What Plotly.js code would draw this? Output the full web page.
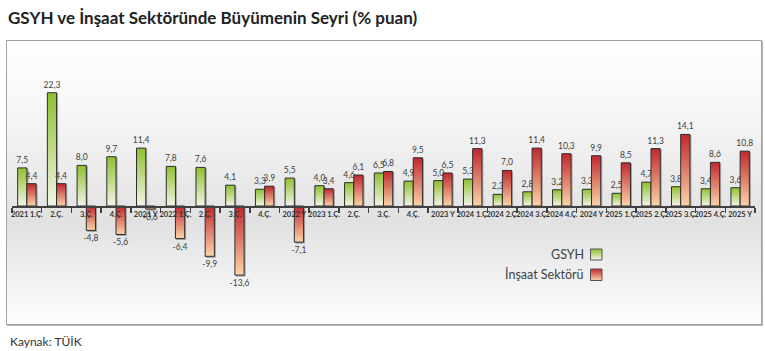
<!DOCTYPE html>
<html>
<head>
<meta charset="utf-8">
<script src="https://cdn.plot.ly/plotly-3.0.1.min.js"></script>
<style>
  html, body { margin: 0; padding: 0; background: #ffffff; }
  #wrap { position: relative; width: 765px; height: 351px; }
  #frame {
    position: absolute; left: 6px; top: 40px; width: 754px; height: 283px;
    border: 1px solid #a3a3a3; box-shadow: 1px 1px 0 #b5b5b5;
    background: linear-gradient(to bottom, #ffffff 0%, #f6f6f6 25%, #e9e9e9 50%, #e1e1e1 64%, #eeeeee 80%, #ffffff 100%);
  }
  #chart { position: absolute; left: 0; top: 0; width: 765px; height: 351px; }
</style>
</head>
<body>
<div id="wrap">
  <div id="frame"></div>
  <div id="chart"></div>
</div>
<script>
const categories = ["2021 1.Ç.", "2.Ç.", "3.Ç.", "4.Ç.", "2021 Y", "2022 1.Ç.", "2.Ç.", "3.Ç.", "4.Ç.", "2022 Y",
  "2023 1.Ç.", "2.Ç.", "3.Ç.", "4.Ç.", "2023 Y", "2024 1.Ç.", "2024 2.Ç.", "2024 3.Ç.", "2024 4.Ç.", "2024 Y",
  "2025 1.Ç.", "2025 2.Ç.", "2025 3.Ç.", "2025 4.Ç.", "2025 Y"];
const gsyh = [7.5, 22.3, 8.0, 9.7, 11.4, 7.8, 7.6, 4.1, 3.3, 5.5, 4.0, 4.6, 6.5, 4.9, 5.0, 5.3, 2.3, 2.8, 3.2, 3.3, 2.5, 4.7, 3.8, 3.4, 3.6];
const insaat = [4.4, 4.4, -4.8, -5.6, -0.6, -6.4, -9.9, -13.6, 3.9, -7.1, 3.4, 6.1, 6.8, 9.5, 6.5, 11.3, 7.0, 11.4, 10.3, 9.9, 8.5, 11.3, 14.1, 8.6, 10.8];
const seriesNames = ["GSYH", "İnşaat Sektörü"];

const FONT = "Lato, 'Open Sans', sans-serif";
const fmt = v => v.toFixed(1).replace('.', ',');
const idx = categories.map((_, i) => i);
const bounds = categories.map((_, i) => i - 0.5).concat([categories.length - 0.5]);

// plot area geometry (pixels)
const L = 12, R = 10, T = 44, B = 29, W = 765, H = 351;
const PW = W - L - R, PH = H - T - B;
const yr = [-22.83, 31.89];
const px = x => (x - L) / PW;
const py = y => (H - B - y) / PH;

const common = {
  type: 'bar', x: idx, textposition: 'outside', cliponaxis: false, constraintext: 'none',
  textfont: { family: FONT, size: 8.5, color: '#404040' }, hoverinfo: 'skip'
};
const traces = [
  Object.assign({}, common, { name: seriesNames[0], y: gsyh, text: gsyh.map(fmt),
    marker: { color: '#b5d56a', line: { color: '#2e2e2e', width: 1 } } }),
  Object.assign({}, common, { name: seriesNames[1], y: insaat, text: insaat.map(fmt),
    marker: { color: '#d9534f', line: { color: '#2e2e2e', width: 1 } } })
];

const layout = {
  width: W, height: H,
  margin: { l: L, r: R, t: T, b: B, pad: 0 },
  paper_bgcolor: 'rgba(0,0,0,0)', plot_bgcolor: 'rgba(0,0,0,0)',
  barmode: 'group', bargap: 0.38, bargroupgap: 0,
  showlegend: false,
  font: { family: FONT, color: '#333' },
  title: { text: 'GSYH ve İnşaat Sektöründe Büyümenin Seyri (% puan)', x: 8 / W, xanchor: 'left',
    y: 1 - 18 / H, yanchor: 'middle', font: { family: FONT, size: 17, weight: 'bold', color: '#222' } },
  xaxis: {
    range: [-0.5, categories.length - 0.5], tickmode: 'array', tickvals: idx, ticktext: categories,
    ticks: '', tickangle: 0, showgrid: false, zeroline: false,
    showline: true, linecolor: '#404040', linewidth: 1.5,
    anchor: 'free', position: -yr[0] / (yr[1] - yr[0]), layer: 'above traces',
    tickfont: { family: FONT, size: 7.5, weight: 'bold', color: '#333' },
    minor: { tickmode: 'array', tickvals: bounds, ticks: 'outside', ticklen: 5, tickwidth: 1.5, tickcolor: '#404040', showgrid: false }
  },
  yaxis: { range: yr, visible: false, showgrid: false, zeroline: false },
  shapes: [
    { type: 'rect', xref: 'paper', yref: 'paper', x0: px(590.5), x1: px(602), y0: py(260), y1: py(249),
      fillcolor: '#c9e292', line: { color: '#555', width: 1 } },
    { type: 'rect', xref: 'paper', yref: 'paper', x0: px(590.5), x1: px(602), y0: py(280.5), y1: py(269),
      fillcolor: '#e2857a', line: { color: '#555', width: 1 } }
  ],
  annotations: [
    { text: seriesNames[0], xref: 'paper', yref: 'paper', x: px(586), y: py(254.5), xanchor: 'right', yanchor: 'middle',
      showarrow: false, font: { family: FONT, size: 12.5, color: '#404040' } },
    { text: seriesNames[1], xref: 'paper', yref: 'paper', x: px(586), y: py(274.5), xanchor: 'right', yanchor: 'middle',
      showarrow: false, font: { family: FONT, size: 12.5, color: '#404040' } },
    { text: 'Kaynak: TÜİK', xref: 'paper', yref: 'paper', x: px(8), y: py(341), xanchor: 'left', yanchor: 'middle',
      showarrow: false, font: { family: FONT, size: 12, color: '#333' } }
  ]
};

Plotly.newPlot('chart', traces, layout, { displayModeBar: false, staticPlot: true }).then(gd => {
  const NS = 'http://www.w3.org/2000/svg';
  const svg = gd.querySelector('.main-svg');
  const defs = document.createElementNS(NS, 'defs');
  const mk = (id, c0, c1) => {
    const g = document.createElementNS(NS, 'linearGradient');
    g.setAttribute('id', id); g.setAttribute('x1', '0'); g.setAttribute('y1', '0');
    g.setAttribute('x2', '0'); g.setAttribute('y2', '1');
    [[0, c0], [1, c1]].forEach(([o, c]) => {
      const s = document.createElementNS(NS, 'stop');
      s.setAttribute('offset', o); s.setAttribute('stop-color', c); g.appendChild(s);
    });
    defs.appendChild(g);
  };
  mk('gradG', '#8fc02e', '#f3f5e8');
  mk('gradR', '#c0272d', '#fcd4a8');
  svg.insertBefore(defs, svg.firstChild);
  const groups = gd.querySelectorAll('.barlayer .trace.bars');
  ['gradG', 'gradR'].forEach((id, k) => {
    if (groups[k]) groups[k].querySelectorAll('path').forEach(p => {
      p.style.fill = 'url(#' + id + ')';
      p.style.filter = 'drop-shadow(1.5px 1px 0.5px rgba(0,0,0,0.3))';
    });
  });
  const shp = gd.querySelectorAll('.shapelayer path');
  if (shp[0]) shp[0].style.fill = 'url(#gradG)';
  if (shp[1]) shp[1].style.fill = 'url(#gradR)';
});
</script>
</body>
</html>
